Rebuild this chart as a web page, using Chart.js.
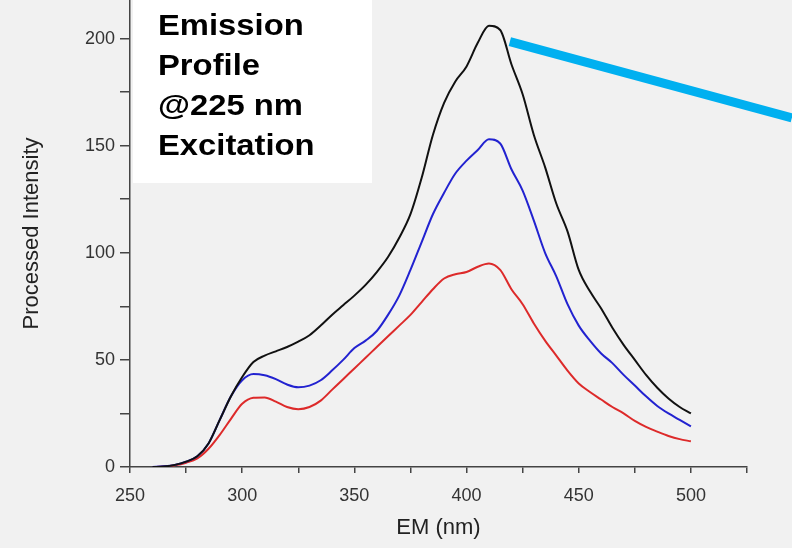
<!DOCTYPE html>
<html>
<head>
<meta charset="utf-8">
<script src="https://cdn.jsdelivr.net/npm/chart.js@4.4.1/dist/chart.umd.min.js"></script>
<style>
  html, body { margin: 0; padding: 0; background: #f1f1f1; }
  #wrap { width: 792px; height: 548px; }
</style>
</head>
<body>
<div id="wrap"><canvas id="chart"></canvas></div>
<script>
// emission wavelengths (nm)
const wavelengths = [260, 265, 270, 275, 280, 285, 290, 295, 300, 305, 310, 315, 320, 325, 330, 335, 340, 345, 350, 355,
    360, 365, 370, 375, 380, 385, 390, 395, 400, 405, 410, 415, 420, 425, 430, 435, 440, 445, 450, 455,
    460, 465, 470, 475, 480, 485, 490, 495, 500];

const black_series = [0, 0.2, 1, 2.5, 5, 11, 22, 33, 42, 49, 52, 54, 56, 58.5, 61.5, 66, 71, 75.5, 80, 85,
    91, 98, 107, 118, 135, 155, 170, 180, 187, 198, 206, 204, 188, 174, 155, 140, 123, 110, 92, 82,
    74, 65, 57, 50, 43, 37, 32, 28, 25];

const blue_series = [0, 0.3, 1, 2.5, 5, 11, 22, 33, 40.5, 43.4, 42.8, 41, 38.5, 37.2, 38, 40.5, 45, 50, 55.5, 59,
    63.5, 71, 80, 92, 105, 118, 128, 137, 143, 148, 153, 151, 139, 129, 115, 100, 89, 76, 66, 59,
    53, 48.5, 43, 38, 33, 28.5, 25, 22, 19];

const red_series = [0, 0.2, 0.8, 2, 4, 8.5, 15, 22.5, 29.5, 32.3, 32.5, 30.5, 28, 27, 28, 31, 36, 41, 46, 51,
    56, 61, 66, 71, 77, 83, 88, 90, 91, 93.5, 95, 92, 83, 76, 67, 59, 52, 45, 39, 35,
    31.5, 28, 25, 21.5, 18.7, 16.5, 14.5, 13, 12];

const x_ticks = [250, 275, 300, 325, 350, 375, 400, 425, 450, 475, 500, 525];
const y_ticks = [0, 25, 50, 75, 100, 125, 150, 175, 200];

const note_lines = ['Emission', 'Profile', '@225 nm', 'Excitation'];
// pointer from the peak, in data units (x nm, y intensity)
const pointer_from = [419.3, 198.6];
const pointer_to = [545, 163];

function to_points(values) {
    var pts = [];
    for (var i = 0; i < wavelengths.length; i++) {
        pts.push({ x: wavelengths[i], y: values[i] });
    }
    return pts;
}

function make_set(values, color) {
    return {
        data: to_points(values),
        borderColor: color,
        backgroundColor: color,
        borderWidth: 2,
        pointRadius: 0,
        cubicInterpolationMode: 'monotone',
        fill: false
    };
}

const background_plugin = {
    id: 'background_fill',
    beforeDraw: (chart) => {
        const ctx = chart.ctx;
        ctx.save();
        ctx.fillStyle = '#f1f1f1';
        ctx.fillRect(0, 0, chart.width, chart.height);
        ctx.restore();
    }
};

const note_plugin = {
    id: 'note_box',
    afterDraw: (chart) => {
        const ctx = chart.ctx;
        const xs = chart.scales.x, ys = chart.scales.y;
        ctx.save();
        // white label box
        ctx.fillStyle = '#ffffff';
        ctx.fillRect(133, 0, 239, 183);
        ctx.fillStyle = '#000000';
        ctx.font = 'bold 29px "Liberation Sans", Arial, sans-serif';
        ctx.textBaseline = 'alphabetic';
        for (var i = 0; i < note_lines.length; i++) {
            ctx.save();
            ctx.translate(158, 35 + i * 40);
            ctx.scale(1.13, 1);
            ctx.fillText(note_lines[i], 0, 0);
            ctx.restore();
        }
        // cyan pointer line
        ctx.strokeStyle = '#00b0f0';
        ctx.lineWidth = 9;
        ctx.lineCap = 'butt';
        ctx.beginPath();
        ctx.moveTo(xs.getPixelForValue(pointer_from[0]), ys.getPixelForValue(pointer_from[1]));
        ctx.lineTo(xs.getPixelForValue(pointer_to[0]), ys.getPixelForValue(pointer_to[1]));
        ctx.stroke();
        ctx.restore();
    }
};

const config = {
    type: 'line',
    data: {
        datasets: [
            make_set(black_series, '#111111'),
            make_set(blue_series, '#2222d0'),
            make_set(red_series, '#dd2a2a')
        ]
    },
    options: {
        animation: false,
        responsive: true,
        maintainAspectRatio: false,
        layout: { padding: { left: 10, right: 45, top: 0, bottom: 0 } },
        scales: {
            x: {
                type: 'linear',
                min: 250,
                max: 525,
                afterBuildTicks: (scale) => {
                    scale.ticks = x_ticks.map(v => ({ value: v }));
                },
                afterFit: (scale) => {
                    scale.height = 81;
                    scale.paddingLeft = 0;
                    scale.paddingRight = 0;
                },
                ticks: {
                    autoSkip: false,
                    maxRotation: 0,
                    padding: 12,
                    color: '#333',
                    font: { family: '"Liberation Sans", Arial, sans-serif', size: 18 },
                    callback: (v) => (v % 50 === 0 && v <= 500) ? String(v) : ''
                },
                grid: { drawOnChartArea: false, drawTicks: true, tickLength: 6, color: '#444', lineWidth: 1.5 },
                border: { display: true, color: '#444', width: 1.5 },
                title: {
                    display: true,
                    text: 'EM (nm)',
                    color: '#222',
                    font: { family: '"Liberation Sans", Arial, sans-serif', size: 22 },
                    padding: { top: 0, bottom: 7 }
                }
            },
            y: {
                min: 0,
                max: 218,
                afterBuildTicks: (scale) => {
                    scale.ticks = y_ticks.map(v => ({ value: v }));
                },
                afterFit: (scale) => {
                    scale.width = 120;
                    scale.paddingTop = 0;
                    scale.paddingBottom = 0;
                },
                ticks: {
                    autoSkip: false,
                    padding: 5,
                    color: '#333',
                    font: { family: '"Liberation Sans", Arial, sans-serif', size: 18 },
                    callback: (v) => (v % 50 === 0) ? String(v) : ''
                },
                grid: { drawOnChartArea: false, drawTicks: true, tickLength: 10, color: '#444', lineWidth: 1.5 },
                border: { display: true, color: '#444', width: 1.5 },
                title: {
                    display: true,
                    text: 'Processed Intensity',
                    color: '#222',
                    font: { family: '"Liberation Sans", Arial, sans-serif', size: 22 },
                    padding: { top: 9, bottom: 0 }
                }
            }
        },
        plugins: {
            legend: { display: false },
            tooltip: { enabled: false },
            background_plugin,
            note_plugin
        }
    },
    plugins: [background_plugin, note_plugin]
};

Chart.defaults.color = '#333';
new Chart(document.getElementById('chart').getContext('2d'), config);
</script>
</body>
</html>
